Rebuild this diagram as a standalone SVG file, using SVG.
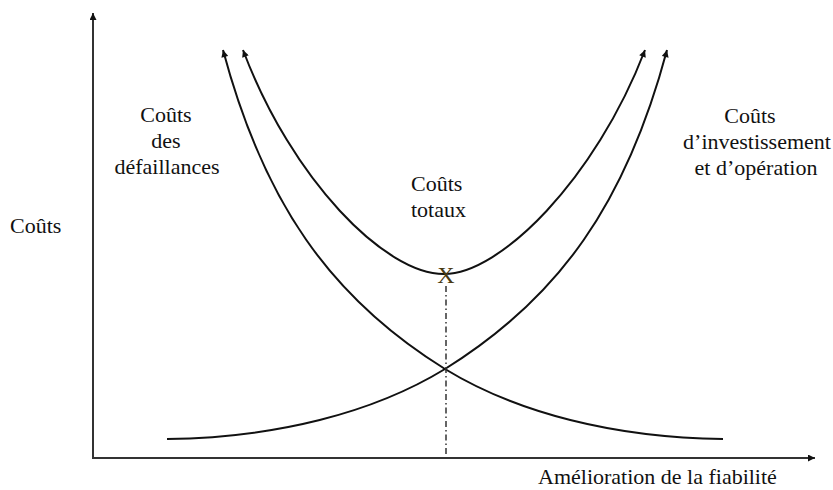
<svg xmlns="http://www.w3.org/2000/svg" width="833" height="490" viewBox="0 0 833 490">
<defs>
<marker id="arr" viewBox="0 0 10 10" refX="10" refY="5" markerWidth="9" markerHeight="7" markerUnits="userSpaceOnUse" orient="auto-start-reverse">
<path d="M0,0 L10,5 L0,10 Z" fill="#111"/>
</marker>
<style>
.axis{fill:none;stroke:#333;stroke-width:2}
.curve{fill:none;stroke:#111;stroke-width:2}
.dd{fill:none;stroke:#333;stroke-width:1.5;stroke-dasharray:6 3 1.5 3}
text{font-family:"Liberation Serif","Times New Roman",serif;font-size:22px;fill:#111}
.c{text-anchor:middle}
</style>
</defs>
<rect width="833" height="490" fill="#fff"/>
<g id="axes">
<path class="axis" d="M93,458 L93,13" marker-end="url(#arr)"/>
<path class="axis" d="M92,458 L815,458" marker-end="url(#arr)"/>
</g>
<g id="connectors">
<path id="failure" class="curve" marker-start="url(#arr)" d="M223,50 C263.6,202 330.2,297.8 445,369 C517,413 614.4,437.7 723,439"/>
<path id="invest" class="curve" marker-end="url(#arr)" d="M167,439 C275.6,437.7 373,413 445,369 C559.8,297.8 626.4,202 667,50"/>
<path id="total" class="curve" marker-start="url(#arr)" marker-end="url(#arr)" d="M243,50 C292,180 385,274 444,274 C500,274 595,180 645,50"/>
<path id="optimum" class="dd" d="M446,286 L446,457"/>
</g>
<g id="label-y"><text x="10" y="233">Coûts</text></g>
<g id="label-failure">
<text class="c" x="166" y="122">Coûts</text>
<text class="c" x="166" y="148">des</text>
<text class="c" x="167" y="174">défaillances</text>
</g>
<g id="label-total">
<text x="411" y="191">Coûts</text>
<text x="411" y="217">totaux</text>
</g>
<g id="label-invest">
<text class="c" x="750" y="123">Coûts</text>
<text class="c" x="757" y="149">d’investissement</text>
<text class="c" x="756" y="175">et d’opération</text>
</g>
<g id="label-x"><text x="538" y="484">Amélioration de la fiabilité</text></g>
<g id="point-x"><text class="c" x="446" y="283" style="font-size:24px;fill:#4a3a12">X</text></g>
</svg>
